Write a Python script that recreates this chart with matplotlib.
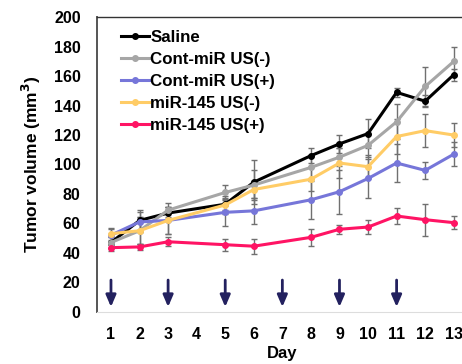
import numpy as np
import matplotlib.pyplot as plt

plt.rcParams['font.family'] = ['Liberation Sans', 'DejaVu Sans']
plt.rcParams['font.weight'] = 'bold'

days = [1, 2, 3, 5, 6, 8, 9, 10, 11, 12, 13]
saline = [47, 62, 67, 73, 88, 106, 114, 121, 149, 143, 161]
saline_err = [4, 7, 4, 4, 15, 5, 6, 10, 3, 4, 4]
cont_neg = [47, 55, 69, 81, 86, 98, 105, 113, 129, 153, 170]
cont_neg_err = [4, 9, 5, 5, 10, 8, 6, 8, 12, 13, 10]
cont_pos = [52, 61, 62, 67.5, 68.5, 76, 81.5, 90.5, 101, 96, 107]
cont_pos_err = [4, 7, 9, 9, 9, 13, 15, 13, 13, 6, 8]
mir_neg = [53, 55, 62, 72.5, 83, 90, 101, 98.5, 119, 123, 120]
mir_neg_err = [4, 9, 9, 6, 6, 8, 10, 8, 12, 11, 8]
mir_pos = [43.5, 44, 47.5, 45.5, 44.5, 50.5, 56, 57.5, 65, 62.5, 60.5]
mir_pos_err = [2, 2, 3, 4, 5, 6, 3, 5, 5.5, 11, 4.5]

labels = ["Saline", "Cont-miR US(-)", "Cont-miR US(+)", "miR-145 US(-)", "miR-145 US(+)"]
colors = ["#000000", "#a6a6a6", "#7676d9", "#ffcc66", "#ff1464"]
series = [saline, cont_neg, cont_pos, mir_neg, mir_pos]
errors = [saline_err, cont_neg_err, cont_pos_err, mir_neg_err, mir_pos_err]

# injection days
arrow_days = [1, 3, 5, 7, 9, 11]

fig = plt.figure(figsize=(4.62, 3.64), dpi=100)
ax = fig.add_axes([0.2093, 0.1437, 0.8037, 0.8088])

for y, e, c, lab in zip(series, errors, colors, labels):
    ax.errorbar(days, y, yerr=e, fmt='none', ecolor='#707070', elinewidth=1.0,
                capsize=2.5, capthick=1.0, zorder=2)
    ax.plot(days, y, '-o', color=c, lw=2.2, ms=4, label=lab, zorder=3)

for d in arrow_days:
    ax.annotate('', xy=(d, 3.2), xytext=(d, 21.5),
                arrowprops=dict(arrowstyle='-|>,head_length=0.7,head_width=0.3',
                                color='#23215f', lw=2.0, shrinkA=0, shrinkB=0))

ax.set_xlim(0.5, 13.5)
ax.set_ylim(0, 200)
ax.set_xticks(range(1, 14))
ax.set_yticks(np.arange(0, 201, 20))
ax.tick_params(length=0, labelsize=11.5)
ax.tick_params(axis='y', pad=11.5)
ax.tick_params(axis='x', pad=11)

ax.spines['left'].set_color('#555555')
ax.spines['left'].set_linewidth(1.4)
ax.spines['top'].set_color('#333333')
ax.spines['top'].set_linewidth(1.0)
ax.spines['bottom'].set_color('#dddddd')
ax.spines['right'].set_visible(False)

ax.set_xlabel("Day", fontsize=12, fontweight='bold', labelpad=3)
ax.set_ylabel("Tumor volume (mm$^3$)", fontsize=12.5, fontweight='bold', labelpad=8)

ax.legend(loc='upper left', bbox_to_anchor=(0.065, 0.957), frameon=False,
          borderpad=0, borderaxespad=0, handlelength=1.65, handletextpad=0.1,
          labelspacing=0.42, prop={'weight': 'bold', 'size': 12.2})

fig.savefig("out.png", dpi=100)
